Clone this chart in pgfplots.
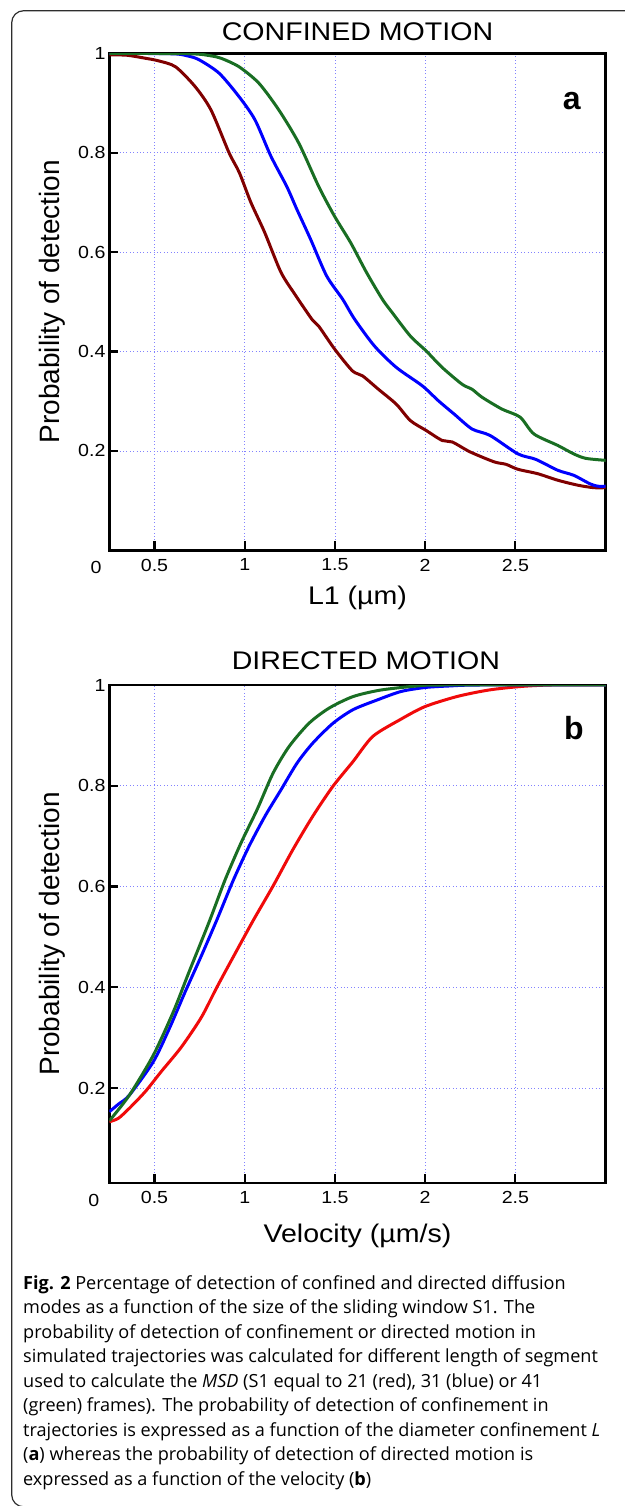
\documentclass[border=0pt]{standalone}
\usepackage{fontspec}
\setmainfont{Liberation Sans}
\newfontfamily\capfont{Open Sans}
\usepackage{pgfplots}
\pgfplotsset{compat=1.18}

\definecolor{cRedA}{RGB}{128,0,0}
\definecolor{cBlue}{RGB}{0,0,255}
\definecolor{cGreen}{RGB}{25,110,35}
\definecolor{cRedB}{RGB}{240,10,10}
\definecolor{gridc}{RGB}{130,130,255}
\definecolor{framec}{RGB}{45,45,45}

\pgfplotsset{myaxis/.style={
  scale only axis, width=496.2pt,
  xmin=0.25, xmax=3, ymax=1,
  xtick={0.5,1,1.5,2,2.5}, ytick={0.2,0.4,0.6,0.8,1},
  grid=major,
  major grid style={gridc, line width=0.8pt, dash pattern=on 0.8pt off 2.6pt},
  tick align=inside, xtick pos=bottom, ytick pos=left,
  major tick length=9pt,
  major tick style={black, line width=2.2pt},
  axis line style={black, line width=2.5pt},
  clip mode=individual,
  /pgf/number format/assume math mode=true,
  ticklabel style={font=\fontsize{17.5}{20}\selectfont, xscale=1.12},
  xticklabel style={yshift=-5pt},
  every axis plot/.append style={line width=3pt, no markers, smooth, tension=0.45},
}}

\begin{document}
\begin{tikzpicture}
\useasboundingbox (0,0) rectangle (624pt,-1506pt);
\draw[framec, line width=1.2pt, rounded corners=12pt] (640pt,-10.7pt) -- (11.7pt,-10.7pt) -- (11.7pt,-1506.8pt) -- (640pt,-1506.8pt);

% ---------------- panel a ----------------
\begin{axis}[myaxis,
  at={(109.4pt,-550.3pt)}, anchor=south west,
  height=497pt, ymin=0,
  title={CONFINED MOTION},
  title style={at={(0.5,1)}, anchor=base, yshift=6.6pt, font=\fontsize{25.5}{30}\selectfont, xscale=1.12},
  xlabel={L1 (µm)},
  xlabel style={at={(rel axis cs:0.5,-0.110)}, anchor=base, font=\fontsize{25.5}{30}\selectfont, xscale=1.12},
  ylabel={Probability of detection},
  ylabel style={at={(rel axis cs:-0.0996,0.5)}, anchor=base, rotate=0, font=\fontsize{28}{32}\selectfont},
]
\addplot[cRedA] coordinates {
(0.25,0.997) (0.35,0.996) (0.45,0.99) (0.52,0.985) (0.616,0.973) (0.725,0.933) (0.813,0.886) (0.913,0.80) (0.97,0.76) (1.034,0.70) (1.11,0.64) (1.2,0.56) (1.278,0.515) (1.376,0.463) (1.41,0.451) (1.498,0.405) (1.597,0.361) (1.653,0.351) (1.741,0.324) (1.84,0.294) (1.918,0.261) (2.006,0.241) (2.094,0.221) (2.15,0.218) (2.249,0.198) (2.382,0.178) (2.448,0.173) (2.514,0.163) (2.625,0.154) (2.735,0.141) (2.846,0.131) (2.934,0.126) (3.0,0.126)
};
\addplot[cBlue] coordinates {
(0.25,1) (0.6,0.999) (0.68,0.995) (0.747,0.987) (0.858,0.96) (0.968,0.913) (1.057,0.866) (1.145,0.793) (1.233,0.732) (1.289,0.686) (1.366,0.625) (1.454,0.552) (1.543,0.505) (1.609,0.465) (1.719,0.411) (1.84,0.368) (1.984,0.331) (2.073,0.301) (2.161,0.274) (2.26,0.244) (2.36,0.231) (2.514,0.194) (2.613,0.183) (2.735,0.161) (2.823,0.151) (2.912,0.134) (2.956,0.129) (3.0,0.129)
};
\addplot[cGreen] coordinates {
(0.25,1) (0.7,0.999) (0.81,0.995) (0.869,0.99) (0.968,0.973) (1.078,0.94) (1.189,0.886) (1.3,0.819) (1.41,0.732) (1.498,0.672) (1.587,0.619) (1.675,0.559) (1.763,0.505) (1.818,0.478) (1.918,0.431) (2.006,0.401) (2.094,0.368) (2.205,0.334) (2.26,0.324) (2.315,0.308) (2.426,0.284) (2.526,0.268) (2.603,0.234) (2.735,0.211) (2.823,0.194) (2.89,0.185) (3.0,0.181)
};
\node[font=\bfseries\fontsize{32}{36}\selectfont, anchor=base] at (rel axis cs:0.932,0.886) {a};
\node[font=\fontsize{17.5}{20}\selectfont, xscale=1.12] at (rel axis cs:0,0) [xshift=-12pt, yshift=-17pt] {0};
\end{axis}

% ---------------- panel b ----------------
\begin{axis}[myaxis,
  at={(109.4pt,-1183pt)}, anchor=south west,
  height=498pt, ymin=0.0115,
  title={DIRECTED MOTION},
  title style={at={(0.517,1)}, anchor=base, yshift=10pt, font=\fontsize{25.5}{30}\selectfont, xscale=1.12},
  xlabel={Velocity (µm/s)},
  xlabel style={at={(rel axis cs:0.5,-0.1185)}, anchor=base, font=\fontsize{25.5}{30}\selectfont, xscale=1.12},
  ylabel={Probability of detection},
  ylabel style={at={(rel axis cs:-0.0996,0.5)}, anchor=base, rotate=0, font=\fontsize{28}{32}\selectfont},
]
\addplot[cRedB] coordinates {
(0.25,0.133) (0.3,0.14) (0.361,0.16) (0.449,0.193) (0.538,0.233) (0.648,0.281) (0.759,0.34) (0.847,0.401) (0.936,0.46) (1.046,0.532) (1.157,0.601) (1.268,0.674) (1.378,0.74) (1.489,0.799) (1.6,0.848) (1.71,0.898) (1.865,0.932) (1.998,0.957) (2.175,0.977) (2.352,0.99) (2.529,0.997) (2.7,1) (3,1)
};
\addplot[cBlue] coordinates {
(0.25,0.153) (0.3,0.168) (0.361,0.186) (0.493,0.252) (0.582,0.318) (0.67,0.391) (0.759,0.462) (0.847,0.535) (0.936,0.612) (1.024,0.68) (1.113,0.74) (1.201,0.792) (1.29,0.845) (1.378,0.885) (1.489,0.924) (1.6,0.951) (1.732,0.97) (1.865,0.987) (1.998,0.995) (2.13,0.998) (2.3,1) (3,1)
};
\addplot[cGreen] coordinates {
(0.25,0.135) (0.361,0.186) (0.493,0.265) (0.604,0.351) (0.692,0.431) (0.803,0.53) (0.892,0.614) (0.98,0.687) (1.069,0.753) (1.157,0.825) (1.246,0.878) (1.356,0.924) (1.467,0.954) (1.6,0.977) (1.754,0.99) (1.954,0.998) (2.1,1) (3,1)
};
\node[font=\bfseries\fontsize{32}{36}\selectfont, anchor=base] at (rel axis cs:0.936,0.890) {b};
\node[font=\fontsize{17.5}{20}\selectfont, xscale=1.12] at (rel axis cs:0,0) [xshift=-14pt, yshift=-17pt] {0};
\end{axis}

% ---------------- caption (base = last line) ----------------
\node[anchor=base west, inner sep=0pt, align=left, font=\capfont\fontsize{18.1}{24.5}\selectfont] at (23pt,-1485pt) {%
\textbf{Fig. 2} Percentage of detection of confined and directed diffusion\\
modes as a function of the size of the sliding window S1. The\\
probability of detection of confinement or directed motion in\\
simulated trajectories was calculated for different length of segment\\
used to calculate the \textit{MSD} (S1 equal to 21 (red), 31 (blue) or 41\\
(green) frames). The probability of detection of confinement in\\
trajectories is expressed as a function of the diameter confinement \textit{L}\\
(\textbf{a}) whereas the probability of detection of directed motion is\\
expressed as a function of the velocity (\textbf{b})};
\end{tikzpicture}
\end{document}
